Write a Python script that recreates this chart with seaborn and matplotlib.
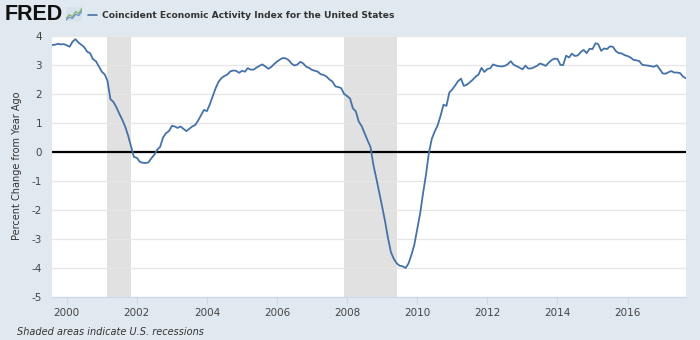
import matplotlib
matplotlib.use("Agg")
import matplotlib.pyplot as plt
from matplotlib.lines import Line2D
import pandas as pd
import seaborn as sns

# Coincident Economic Activity Index, percent change from year ago (monthly)
start_month = "1999-08-01"
cei_yoy = [
    3.69, 3.70, 3.73, 3.71, 3.72,                                              # 1999 (Aug-Dec)
    3.68, 3.63, 3.80, 3.89, 3.78, 3.70, 3.62, 3.46, 3.41, 3.20, 3.13, 2.95,    # 2000
    2.77, 2.67, 2.45, 1.82, 1.73, 1.55, 1.33, 1.12, 0.88, 0.58, 0.20, -0.17,   # 2001
    -0.20, -0.34, -0.37, -0.38, -0.36, -0.22, -0.10, 0.08, 0.18, 0.50, 0.65, 0.72,  # 2002
    0.90, 0.88, 0.83, 0.88, 0.80, 0.72, 0.80, 0.88, 0.93, 1.08, 1.27, 1.45,    # 2003
    1.41, 1.65, 1.92, 2.20, 2.42, 2.55, 2.62, 2.67, 2.78, 2.81, 2.80, 2.73,    # 2004
    2.80, 2.77, 2.89, 2.84, 2.84, 2.91, 2.97, 3.02, 2.95, 2.87, 2.93, 3.03,    # 2005
    3.12, 3.19, 3.24, 3.23, 3.17, 3.05, 2.98, 3.02, 3.11, 3.05, 2.94, 2.90,    # 2006
    2.83, 2.80, 2.77, 2.68, 2.66, 2.60, 2.50, 2.43, 2.26, 2.24, 2.20, 2.00,    # 2007
    1.93, 1.84, 1.51, 1.40, 1.05, 0.89, 0.65, 0.40, 0.17, -0.45, -0.92, -1.40, # 2008
    -1.90, -2.42, -2.95, -3.45, -3.68, -3.84, -3.92, -3.94, -4.00, -3.85, -3.55, -3.20,  # 2009
    -2.65, -2.10, -1.45, -0.80, -0.05, 0.45, 0.70, 0.92, 1.25, 1.63, 1.59, 2.05,  # 2010
    2.16, 2.30, 2.44, 2.53, 2.28, 2.32, 2.40, 2.49, 2.60, 2.67, 2.90, 2.76,    # 2011
    2.86, 2.89, 3.02, 2.98, 2.96, 2.95, 2.97, 3.03, 3.13, 3.01, 2.96, 2.91,    # 2012
    2.85, 2.98, 2.88, 2.88, 2.92, 2.97, 3.05, 3.02, 2.97, 3.08, 3.17, 3.22,    # 2013
    3.21, 3.00, 3.00, 3.32, 3.26, 3.39, 3.31, 3.33, 3.45, 3.52, 3.41, 3.56,    # 2014
    3.55, 3.75, 3.72, 3.49, 3.57, 3.55, 3.64, 3.63, 3.48, 3.41, 3.40, 3.34,    # 2015
    3.31, 3.26, 3.18, 3.16, 3.14, 3.01, 2.99, 2.98, 2.96, 2.94, 2.99, 2.86,    # 2016
    2.71, 2.70, 2.75, 2.79, 2.74, 2.74, 2.72, 2.60, 2.54,                      # 2017 (Jan-Sep)
]

# NBER recession periods
recession_starts = ["2001-03-01", "2007-12-01"]
recession_ends = ["2001-11-01", "2009-06-01"]

y_ticks = [-5, -4, -3, -2, -1, 0, 1, 2, 3, 4]
x_tick_years = [2000, 2002, 2004, 2006, 2008, 2010, 2012, 2014, 2016]

title = "Coincident Economic Activity Index for the United States"
y_label = "Percent Change from Year Ago"
footnote = "Shaded areas indicate U.S. recessions"

dates = pd.date_range(start_month, periods=len(cei_yoy), freq="MS")
df = pd.DataFrame({"date": dates, "value": cei_yoy})

sns.set_theme(style="white")
plt.rcParams["font.family"] = ["DejaVu Sans"]

BG = "#e1e9f0"
LINE = "#4572a7"
W, H = 700, 340

fig = plt.figure(figsize=(W / 100, H / 100), dpi=100, facecolor=BG)
ax = fig.add_axes([52 / W, 1 - 297 / H, (686 - 52) / W, (297 - 36) / H])
ax.set_facecolor("white")

for s, e in zip(recession_starts, recession_ends):
    ax.axvspan(pd.Timestamp(s), pd.Timestamp(e), color="#e1e1e1", lw=0, zorder=0)

ax.set_axisbelow(True)
ax.yaxis.grid(True, color="#e6e6e6", lw=0.9)
ax.xaxis.grid(False)
ax.axhline(0, color="black", lw=1.6, zorder=2)

sns.lineplot(data=df, x="date", y="value", ax=ax, color=LINE, lw=1.3, zorder=3)

ax.set_xlim(dates[0], dates[-1])
ax.set_ylim(-5, 4)
ax.set_yticks(y_ticks)
ax.set_yticklabels([str(v) for v in y_ticks])
ax.set_xticks([pd.Timestamp(f"{y}-01-01") for y in x_tick_years])
ax.set_xticklabels([str(y) for y in x_tick_years])
ax.set_xlabel("")
ax.set_ylabel("")

for side in ("left", "right", "top"):
    ax.spines[side].set_visible(False)
ax.spines["bottom"].set_color("#ccd6eb")
ax.spines["bottom"].set_linewidth(0.8)

ax.tick_params(axis="x", bottom=True, length=5, width=0.8, color="#ccd6eb",
               labelsize=7.5, labelcolor="#444444", pad=3)
ax.tick_params(axis="y", left=False, length=0, labelsize=7.5,
               labelcolor="#444444", pad=7)

fig.text(17 / W, 1 - 166 / H, y_label, rotation=90, va="center", ha="center",
         fontsize=7, color="#333333")
fig.text(17 / W, 1 - 332 / H, footnote, va="center", ha="left",
         fontsize=7, style="italic", color="#333333")

# Header: logo, small chart icon, legend dash and series title
fig.text(5 / W, 1 - 14 / H, "FRED", va="center", ha="left", fontsize=15.5,
         fontweight="heavy", family=["Liberation Sans", "DejaVu Sans"], color="#111111")
icon = fig.add_axes([66 / W, 1 - 21 / H, 16 / W, 14 / H])
icon.set_facecolor("#d6e2ec")
icon.plot([0, 1, 2, 3, 4, 5], [0.5, 1.5, 1.0, 2.2, 1.8, 3.0], color="#7fb26b", lw=0.9)
icon.plot([0, 1, 2, 3, 4, 5], [0.2, 0.9, 0.6, 1.6, 1.3, 2.4], color="#6f8fbf", lw=0.9)
icon.set_xlim(0, 5)
icon.set_ylim(0, 3.3)
icon.set_xticks([])
icon.set_yticks([])
for sp in icon.spines.values():
    sp.set_visible(False)

fig.add_artist(Line2D([88 / W, 97 / W], [1 - 15 / H, 1 - 15 / H], color=LINE, lw=1.2))
fig.text(102 / W, 1 - 15 / H, title, va="center", ha="left", fontsize=6.6,
         fontweight="bold", color="#333333")

fig.savefig("out.png", dpi=100, facecolor=BG)
